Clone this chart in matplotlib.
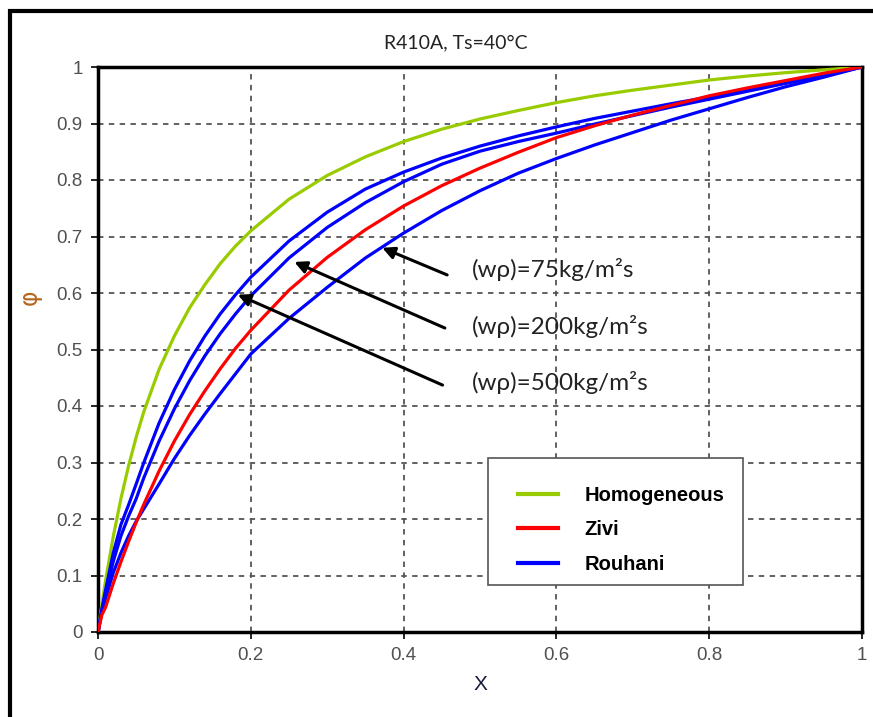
import numpy as np
import matplotlib.pyplot as plt
from matplotlib.patches import Rectangle

# void fraction phi vs quality x
qx = [0, 0.005, 0.01, 0.02, 0.03, 0.04, 0.05, 0.06, 0.08, 0.1, 0.12, 0.14, 0.16,
      0.18, 0.2, 0.25, 0.3, 0.35, 0.4, 0.45, 0.5, 0.55, 0.6, 0.65, 0.7, 0.75,
      0.8, 0.85, 0.9, 0.95, 1.0]

homog_phi = [0, 0.048, 0.092, 0.169, 0.236, 0.294, 0.345, 0.39, 0.465, 0.524,
             0.574, 0.615, 0.652, 0.683, 0.71, 0.766, 0.808, 0.841, 0.868, 0.89,
             0.908, 0.923, 0.937, 0.949, 0.959, 0.968, 0.977, 0.984, 0.99, 0.995, 1.0]

zivi_phi = [0, 0.03, 0.044, 0.086, 0.124, 0.16, 0.194, 0.226, 0.285, 0.338,
            0.385, 0.427, 0.466, 0.502, 0.534, 0.605, 0.663, 0.712, 0.754, 0.79,
            0.821, 0.849, 0.875, 0.896, 0.915, 0.932, 0.949, 0.963, 0.976, 0.989, 1.0]

rouh500_phi = [0, 0.04, 0.075, 0.14, 0.19, 0.225, 0.262, 0.3, 0.37, 0.429,
               0.48, 0.524, 0.563, 0.597, 0.628, 0.692, 0.743, 0.784, 0.814, 0.839,
               0.86, 0.878, 0.894, 0.909, 0.922, 0.935, 0.947, 0.959, 0.972, 0.986, 1.0]

rouh200_phi = [0, 0.038, 0.07, 0.125, 0.17, 0.205, 0.236, 0.273, 0.338, 0.395,
               0.445, 0.489, 0.528, 0.563, 0.595, 0.662, 0.716, 0.76, 0.797, 0.828,
               0.851, 0.868, 0.883, 0.899, 0.914, 0.929, 0.943, 0.957, 0.971, 0.985, 1.0]

rouh75_phi = [0, 0.035, 0.06, 0.105, 0.14, 0.17, 0.196, 0.218, 0.262, 0.307,
              0.348, 0.386, 0.422, 0.457, 0.492, 0.555, 0.61, 0.662, 0.706, 0.746,
              0.781, 0.812, 0.838, 0.862, 0.884, 0.906, 0.926, 0.946, 0.965, 0.982, 1.0]

ticks = [0, 0.2, 0.4, 0.6, 0.8, 1]
tick_labels = ["0", "0.2", "0.4", "0.6", "0.8", "1"]
yticks = [0, 0.1, 0.2, 0.3, 0.4, 0.5, 0.6, 0.7, 0.8, 0.9, 1]
ytick_labels = ["0", "0.1", "0.2", "0.3", "0.4", "0.5", "0.6", "0.7", "0.8", "0.9", "1"]

notes = ["(w\u03c1)=75kg/m\u00b2s", "(w\u03c1)=200kg/m\u00b2s", "(w\u03c1)=500kg/m\u00b2s"]

GREEN = "#99cc00"
RED = "#ff0000"
BLUE = "#0000ff"
arial = ["Liberation Sans", "DejaVu Sans"]
calib = ["Lato", "DejaVu Sans"]

fig = plt.figure(figsize=(8.73, 7.17), dpi=100)
ax = fig.add_axes([98 / 873, 85 / 717, 764 / 873, 565 / 717])

# outer frame (cut by the right and bottom image edges)
fig.patches.append(Rectangle((10 / 873, -0.1), 1.2, 1.1 - 11 / 717,
                             transform=fig.transFigure, fill=False,
                             edgecolor="black", linewidth=3))

lw = 2.3
ax.plot(qx, homog_phi, color=GREEN, lw=lw, label="Homogeneous", zorder=3)
ax.plot(qx, zivi_phi, color=RED, lw=lw, label="Zivi", zorder=4)
ax.plot(qx, rouh500_phi, color=BLUE, lw=lw, label="Rouhani", zorder=3)
ax.plot(qx, rouh200_phi, color=BLUE, lw=lw, zorder=3)
ax.plot(qx, rouh75_phi, color=BLUE, lw=lw, zorder=3)

ax.set_xlim(0, 1)
ax.set_ylim(0, 1)
ax.set_xticks(ticks)
ax.set_xticklabels(tick_labels)
ax.set_yticks(yticks)
ax.set_yticklabels(ytick_labels)
ax.grid(True, color="#555555", linestyle=(0, (3, 3)), linewidth=1.3)
ax.set_axisbelow(True)
for s in ax.spines.values():
    s.set_linewidth(2.5)
ax.tick_params(direction="out", length=5, width=1.2, colors="black",
               labelcolor="#505050", labelsize=13.5, pad=6)
for lab in ax.get_xticklabels() + ax.get_yticklabels():
    lab.set_family(arial)

ax.set_xlabel("X", fontsize=15, color="#1a1a40", family=arial, labelpad=8)
ax.set_ylabel("\u03c6", fontsize=17, color="#b8651b")
ax.yaxis.set_label_coords(-0.073, 0.593)

fig.text(456 / 873, 1 - 43 / 717, "R410A, Ts=40\u00b0C", ha="center", va="center",
         fontsize=14, family=calib, color="#222222")

# arrows and labels for the mass fluxes
heads = [(0.372, 0.680), (0.257, 0.655), (0.183, 0.597)]
tails = [(0.457, 0.632), (0.454, 0.538), (0.451, 0.437)]
text_y = [0.641, 0.540, 0.441]
for head, tail, ty, note in zip(heads, tails, text_y, notes):
    ax.annotate("", xy=head, xytext=tail,
                arrowprops=dict(arrowstyle="-|>", color="black", lw=2.2,
                                mutation_scale=18, shrinkA=0, shrinkB=0),
                zorder=6)
    ax.text(0.49, ty, note, fontsize=17.5, family=calib,
            color="#222222", va="center", ha="left")

leg = ax.legend(loc="lower left", bbox_to_anchor=(0.510, 0.083, 0.334, 0.225),
                mode="expand", fancybox=False, framealpha=1, edgecolor="#555555",
                handlelength=3.0, handletextpad=1.25, labelspacing=0.78,
                borderpad=0.55, borderaxespad=0, title=" ", title_fontsize=1.5,
                prop={"family": arial, "weight": "bold", "size": 14.5})
leg.get_frame().set_linewidth(1.2)
# shorter legend lines sitting at the right of the handle slot
for h in leg.get_lines():
    xd = np.asarray(h.get_xdata(), dtype=float)
    x0, x1 = xd.min(), xd.max()
    h.set_xdata(x0 + 0.32 * (x1 - x0) + (xd - x0) * 0.66)
    h.set_linewidth(3)
leg.set_zorder(7)

fig.savefig("out.png", dpi=100)
